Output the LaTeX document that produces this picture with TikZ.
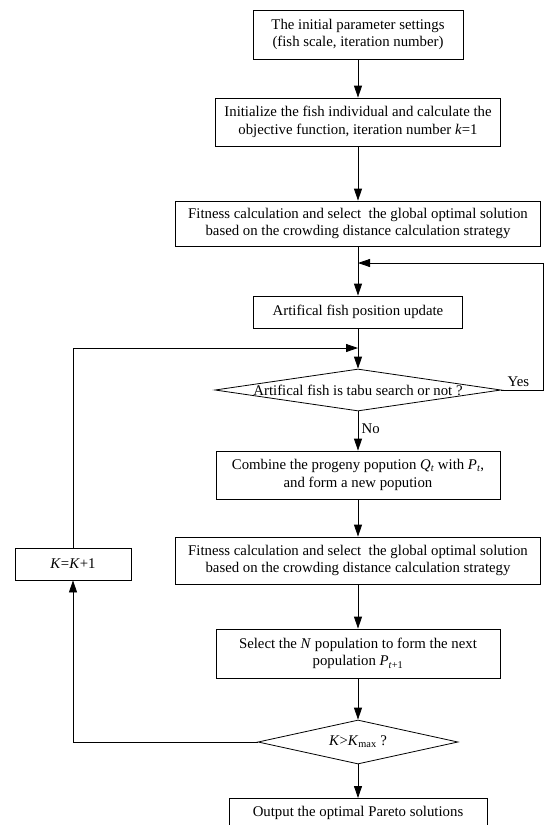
\documentclass[tikz,border=0pt]{standalone}
\usepackage{fontspec}
\setmainfont{Liberation Serif}
\usetikzlibrary{arrows.meta,shapes.geometric}
\begin{document}
\begin{tikzpicture}[x=1pt,y=-1pt,
  font=\fontsize{14.8}{17.5}\selectfont,
  box/.style={draw,line width=0.8pt,align=center,inner sep=0pt},
  dia/.style={draw,line width=0.8pt,diamond,inner sep=0pt},
  arr/.style={line width=0.8pt,-{Triangle[length=12pt,width=8pt]}},
  ln/.style={line width=0.8pt}]
\useasboundingbox (0,0) rectangle (544,825);
\clip (0,0) rectangle (544,825);
\node[box,minimum width=210pt,minimum height=49pt] (b1) at (358,34.5) {The initial parameter settings\\(fish scale, iteration number)};
\node[box,minimum width=285pt,minimum height=48pt] (b2) at (358,122) {Initialize the fish individual and calculate the\\objective function, iteration number \textit{k}=1};
\node[box,minimum width=365pt,minimum height=45pt] (b3) at (358,223.5) {Fitness calculation and select\ \ the global optimal solution\\based on the crowding distance calculation strategy};
\node[box,minimum width=209pt,minimum height=32pt] (b4) at (358,312) {Artifical fish position update};
\node[dia,minimum width=286pt,minimum height=42pt] (d1) at (358,390) {};
\node (d1t) at (d1.center) {Artifical fish is tabu search or not ?};
\node[box,minimum width=284pt,minimum height=48pt] (b5) at (358,475) {Combine the progeny popution \textit{Q\textsubscript{t}} with \textit{P\textsubscript{t}},\\and form a new popution};
\node[box,minimum width=365pt,minimum height=47pt] (b6) at (358,560.5) {Fitness calculation and select\ \ the global optimal solution\\based on the crowding distance calculation strategy};
\node[box,minimum width=116pt,minimum height=32pt] (kb) at (73,564) {\textit{K}=\textit{K}+1};
\node[box,minimum width=284pt,minimum height=49pt] (b7) at (358,653.5) {Select the \textit{N} population to form the next\\population \textit{P}\textsubscript{\textit{t}+1}};
\node[dia,minimum width=200pt,minimum height=44pt] (d2) at (358,742) {};
\node (d2t) at (d2.center) {\textit{K}>\textit{K}\textsubscript{max} ?};
\node[box,minimum width=258pt,minimum height=30pt,anchor=north] (b8) at (358,798) {Output the optimal Pareto solutions};
\coordinate (j1) at (358,263);
\coordinate (rc) at (543,263);
\coordinate (j2) at (358,348);
\draw[arr] (b1) -- (b2);
\draw[arr] (b2) -- (b3);
\draw[arr] (b3) -- (b4);
\draw[arr] (b4) -- (d1);
\draw[arr] (d1) -- node[right,pos=0.45] {No} (b5);
\draw[arr] (b5) -- (b6);
\draw[arr] (b6) -- (b7);
\draw[arr] (b7) -- (d2);
\draw[arr] (d2) -- (b8);
\draw[arr] (d1.east) -| (rc) -- (j1);
\node[anchor=south west,inner sep=1pt] (yes) at ([xshift=5pt,yshift=2pt]d1.east) {Yes};
\draw[arr] (d2.west) -| (kb.south);
\draw[arr] (kb.north) |- (j2);
\end{tikzpicture}
\end{document}
